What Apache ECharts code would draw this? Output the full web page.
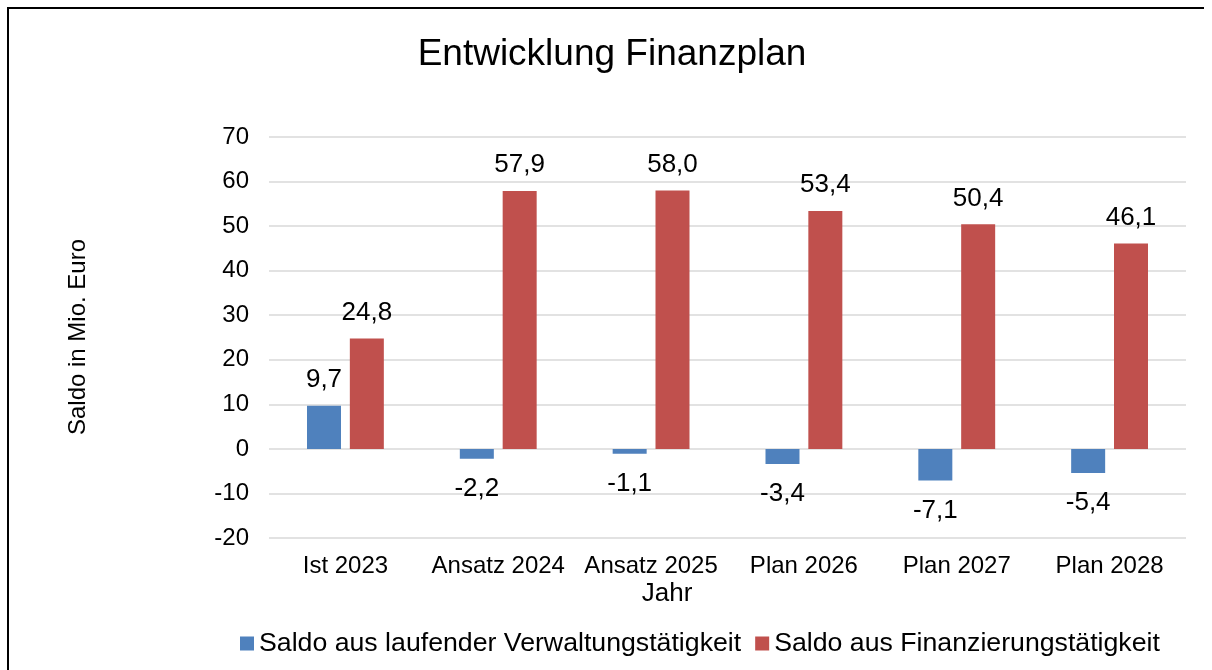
<!DOCTYPE html>
<html>
<head>
<meta charset="utf-8">
<script src="https://cdn.jsdelivr.net/npm/echarts@6/dist/echarts.min.js"></script>
<style>
html,body{margin:0;padding:0;background:#fff;}
#chart{width:1212px;height:670px;}
</style>
</head>
<body>
<div id="chart"></div>
<script>
const categories = ['Ist 2023', 'Ansatz 2024', 'Ansatz 2025', 'Plan 2026', 'Plan 2027', 'Plan 2028'];
const verwaltung = [9.7, -2.2, -1.1, -3.4, -7.1, -5.4];
const finanzierung = [24.8, 57.9, 58.0, 53.4, 50.4, 46.1];
const seriesNames = ['Saldo aus laufender Verwaltungstätigkeit', 'Saldo aus Finanzierungstätigkeit'];
const titleText = 'Entwicklung Finanzplan';
const yAxisTitle = 'Saldo in Mio. Euro';
const xAxisTitle = 'Jahr';

const FONT = '"Liberation Sans", Arial, sans-serif';
const fmt = v => v.toFixed(1).replace('.', ',');
const toItems = arr => arr.map(v => ({ value: v, label: { distance: v < 0 ? 17 : 13 } }));

const chart = echarts.init(document.getElementById('chart'), null, { renderer: 'canvas' });
chart.setOption({
  backgroundColor: '#fff',
  animation: false,
  textStyle: { fontFamily: FONT },
  title: {
    text: titleText,
    left: 607, top: 31, textAlign: 'center',
    textStyle: { fontFamily: FONT, fontSize: 37, fontWeight: 'normal', color: '#000' }
  },
  legend: {
    left: 235, top: 625,
    icon: 'rect', itemWidth: 14, itemHeight: 14, itemGap: 14,
    textStyle: { fontFamily: FONT, fontSize: 26.7, color: '#000' },
    data: seriesNames
  },
  grid: { left: 269, right: 26, top: 137, bottom: 132, containLabel: false },
  xAxis: {
    type: 'category',
    data: categories,
    axisLine: { show: false, onZero: false },
    axisTick: { show: false },
    axisLabel: { fontFamily: FONT, fontSize: 24, color: '#000', margin: 16, interval: 0 },
    splitLine: { show: false }
  },
  yAxis: {
    type: 'value',
    min: -20, max: 70, interval: 10,
    axisLine: { show: false },
    axisTick: { show: false },
    axisLabel: { fontFamily: FONT, fontSize: 24, color: '#000', margin: 20 },
    splitLine: { lineStyle: { color: '#d9d9d9', width: 1.5 } }
  },
  graphic: [
    {
      type: 'polyline', silent: true,
      shape: { points: [[1204, 8], [8, 8], [8, 700]] },
      style: { stroke: '#000', lineWidth: 2, fill: null }
    },
    {
      type: 'text', silent: true, x: 78, y: 337, rotation: Math.PI / 2,
      style: { text: yAxisTitle, fontFamily: FONT, fontSize: 24, fill: '#000', align: 'center', verticalAlign: 'middle' }
    },
    {
      type: 'text', silent: true, x: 667, y: 594,
      style: { text: xAxisTitle, fontFamily: FONT, fontSize: 26, fill: '#000', align: 'center', verticalAlign: 'middle' }
    }
  ],
  series: [
    {
      name: seriesNames[0], type: 'bar', data: toItems(verwaltung),
      barWidth: 34, barGap: '26%',
      itemStyle: { color: '#4F81BD' },
      label: { show: true, position: 'outside', formatter: p => fmt(p.value), fontFamily: FONT, fontSize: 26, lineHeight: 26, color: '#000' }
    },
    {
      name: seriesNames[1], type: 'bar', data: toItems(finanzierung),
      barWidth: 34, barGap: '26%',
      itemStyle: { color: '#C0504D' },
      label: { show: true, position: 'outside', formatter: p => fmt(p.value), fontFamily: FONT, fontSize: 26, lineHeight: 26, color: '#000' }
    }
  ]
});
</script>
</body>
</html>
